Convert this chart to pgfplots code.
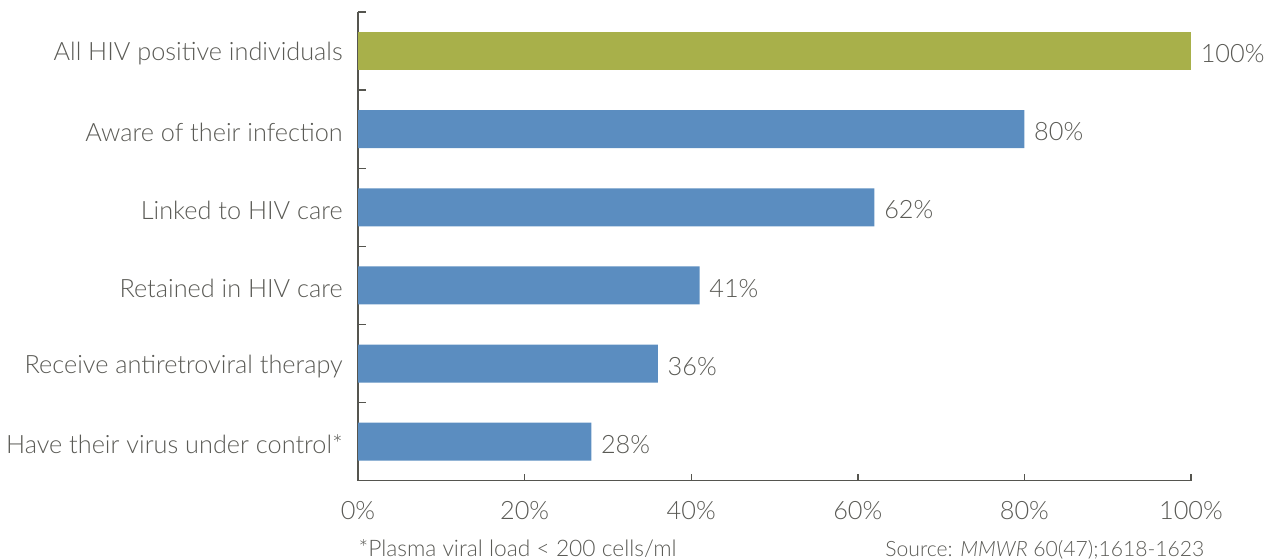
\documentclass[border=0pt]{standalone}
\usepackage{pgfplots}
\pgfplotsset{compat=1.18}
\usepackage{fontspec}
\setmainfont{Lato}[UprightFont={* Light}, ItalicFont={* Light Italic}]

\definecolor{txtgray}{HTML}{5A5A55}
\definecolor{axgray}{HTML}{55554F}
\definecolor{olivebar}{HTML}{A8B04A}
\definecolor{bluebar}{HTML}{5B8DC0}

\begin{document}
\begin{tikzpicture}
\begin{axis}[
  name=ax,
  scale only axis,
  width=299.9pt, height=168.8pt,
  xbar, bar width=0.486, bar shift=0pt,
  xmin=0, xmax=100,
  ymin=-0.5, ymax=5.5, y dir=reverse,
  axis x line=bottom, axis y line=left,
  axis line style={draw=axgray, line width=0.5pt, -},
  every tick/.style={draw=axgray, line width=0.5pt},
  xtick={0,20,...,100},
  xticklabel={\pgfmathprintnumber{\tick}\%},
  major tick length=2.6pt,
  ytick={0,...,5},
  yticklabels={All HIV positive individuals, Aware of their infection, Linked to HIV care, Retained in HIV care, Receive antiretroviral therapy, Have their virus under control*},
  minor ytick={-0.5,0.5,...,5.5},
  minor tick length=2.9pt,
  every major y tick/.append style={draw=none},
  tick align=inside,
  ticklabel style={font=\fontsize{9.1}{11}\selectfont, text=txtgray},
  /pgf/number format/assume math mode=true,
  x tick label style={yshift=-4pt},
  y tick label style={xshift=-2pt, yshift=-1pt},
  nodes near coords={\pgfmathprintnumber{\pgfplotspointmeta}\%},
  point meta=x,
  nodes near coords style={anchor=west, yshift=-1pt, font=\fontsize{9.1}{11}\selectfont, text=txtgray},
  clip=false,
]
\addplot[fill=olivebar, draw=none] coordinates {(100,0)};
\addplot[fill=bluebar, draw=none] coordinates {(80,1) (62,2) (41,3) (36,4) (28,5)};
\node[anchor=north west, inner sep=0pt, font=\fontsize{8.2}{10}\selectfont, text=txtgray] at ([yshift=-21pt]rel axis cs:0,0) {*Plasma viral load < 200 cells/ml};
\node[anchor=north east, inner sep=0pt, font=\fontsize{7.6}{10}\selectfont, text=txtgray] at ([yshift=-21.4pt, xshift=5pt]rel axis cs:1,0) {Source: \textit{MMWR} 60(47);1618-1623};
\end{axis}
\pgfresetboundingbox
\path ([xshift=-128.9pt,yshift=-28.4pt]ax.south west) rectangle ([xshift=28.8pt,yshift=4.3pt]ax.north east);
\end{tikzpicture}
\end{document}
